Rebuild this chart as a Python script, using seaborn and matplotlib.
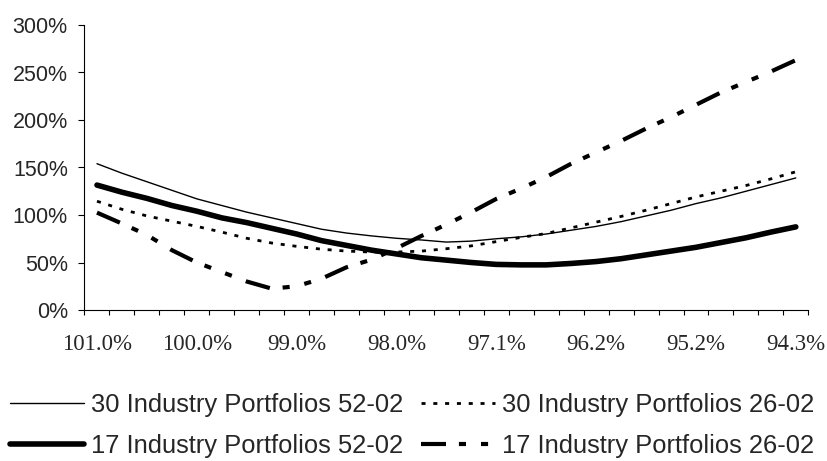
import numpy as np
import pandas as pd
import matplotlib
matplotlib.use('Agg')
import matplotlib.pyplot as plt
from matplotlib.ticker import FuncFormatter, MultipleLocator
import seaborn as sns

# 데이터 (그림에서 읽은 값, %)
x_labels = ['101.0%', '100.0%', '99.0%', '98.0%', '97.1%', '96.2%', '95.2%', '94.3%']
n_points = 29

ind30_5202 = [154, 144, 135, 126, 117, 110, 103, 97, 91, 85, 81, 78, 75.5, 73.7, 71.5,
              72.5, 75, 77, 80, 84, 88, 93, 99, 105, 112, 118, 125, 132, 139]
ind30_2602 = [114.5, 106, 99, 93.5, 88, 82, 75.5, 70.5, 67, 64, 62, 61, 61, 62, 64.5,
              67.5, 72, 76.5, 80.5, 86.5, 92.5, 98.5, 105, 112, 119, 125, 131, 138, 145.5]
ind17_5202 = [131.5, 124, 117.5, 110, 104, 97, 92, 86, 80, 73, 68, 63, 59, 55, 52.5,
              50, 48, 47.5, 47.5, 49, 51, 54, 58, 62, 66, 71, 76, 82, 87.5]
ind17_2602 = [102.5, 91, 79, 63, 50, 40, 30, 22.5, 25, 33, 45, 53, 65, 78, 90,
              103, 117, 128, 140, 154, 166, 178, 191, 203, 216, 229, 240, 251, 263]

names = ['30 Industry Portfolios 52-02', '30 Industry Portfolios 26-02',
         '17 Industry Portfolios 52-02', '17 Industry Portfolios 26-02']
series = [ind30_5202, ind30_2602, ind17_5202, ind17_2602]

rows = []
for name, vals in zip(names, series):
    for i, v in enumerate(vals):
        rows.append([name, i, v / 100])
df = pd.DataFrame(rows, columns=['series', 'idx', 'value'])

sns.set_style('ticks')
plt.rcParams['font.family'] = ['Liberation Sans', 'DejaVu Sans']

fig = plt.figure(figsize=(8.28, 4.61), dpi=100)
ax = fig.add_axes([84.5 / 828, 1 - 310 / 461, (808.3 - 84.5) / 828, (310 - 25) / 461])

sizes = {names[0]: 1.0, names[1]: 2.0, names[2]: 4.0, names[3]: 3.0}
dashes = {names[0]: '', names[1]: (1.45, 2.8), names[2]: '', names[3]: (6, 3.1, 1.7, 3.6, 1.7, 3.6)}
sns.lineplot(data=df, x='idx', y='value', size='series', style='series',
             sizes=sizes, dashes=dashes, color='black', legend=False, ax=ax)

ax.set_xlim(-0.5, n_points - 0.5)
ax.set_ylim(0, 3.0)
ax.yaxis.set_major_locator(MultipleLocator(0.5))
ax.yaxis.set_major_formatter(FuncFormatter(lambda v, p: f'{v * 100:.0f}%'))
ax.set_xticks(range(0, n_points, 4))
ax.set_xticklabels(x_labels, family='Liberation Serif', fontsize=16.5)
ax.set_xticks(np.arange(-0.5, n_points, 1), minor=True)
ax.tick_params(axis='x', which='major', length=0, pad=17)
ax.tick_params(axis='x', which='minor', length=3.8, width=0.8, direction='out', color='black')
ax.tick_params(axis='y', length=4, width=0.8, labelsize=15.5, pad=8, color='black')
ax.set_xlabel('')
ax.set_ylabel('')
for s in ['top', 'right']:
    ax.spines[s].set_visible(False)
for s in ['left', 'bottom']:
    ax.spines[s].set_color('black')
    ax.spines[s].set_linewidth(0.8)

# 범례: 행 순서대로 보이도록 열 순서로 배치
lines = ax.get_lines()
order = [0, 2, 1, 3]
fig.legend([lines[i] for i in order], [names[i] for i in order],
           loc='upper left', bbox_to_anchor=(10 / 828, 1 - 393 / 461), ncol=2,
           frameon=False, fontsize=18.4, handlelength=2.9, handletextpad=0.27,
           columnspacing=0.7, labelspacing=0.68, borderpad=0, borderaxespad=0)

fig.savefig('out.png', dpi=100)
